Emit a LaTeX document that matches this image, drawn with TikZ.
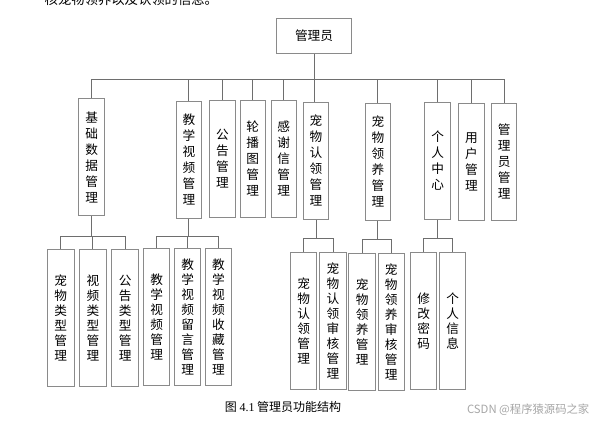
\documentclass[tikz,border=0pt]{standalone}
\usepackage{fontspec}
\setmainfont{Noto Sans CJK SC}
\newfontfamily\numfont{Liberation Serif}
\definecolor{linegray}{HTML}{6E6E6E}
\definecolor{boxgray}{HTML}{8A8A8A}
\tikzset{
  box/.style={draw=boxgray, line width=0.75pt, fill=white, inner sep=0pt, align=center},
  rootbox/.style={box, minimum width=56.25pt, minimum height=26.25pt, font={\fontsize{9.5}{12}\selectfont}},
  upper/.style={box, minimum width=19pt, minimum height=87.75pt, font={\fontsize{9.5}{12}\selectfont}},
  lower/.style={box, minimum width=19.9pt, minimum height=102.75pt, font={\fontsize{9.5}{11.25}\selectfont}},
}
\begin{document}
\begin{tikzpicture}[x=0.75pt, y=-0.75pt]
      \useasboundingbox (0,0) rectangle (600,422);
      \node[anchor=base west, font={\fontsize{10}{12}\selectfont}] (intro) at (40,4.5) {核宠物领养以及认领的信息。};
      \draw
        (314,35.8) node[rootbox] (0){管理员}
        (91.6,157.2) node[upper] (1){基\\础\\数\\据\\管\\理}
        (188.9,159.8) node[upper] (2){教\\学\\视\\频\\管\\理}
        (222.4,158.8) node[upper] (3){公\\告\\管\\理}
        (252.8,158.8) node[upper] (4){轮\\播\\图\\管\\理}
        (283.7,158.8) node[upper] (5){感\\谢\\信\\管\\理}
        (316,160.8) node[upper] (6){宠\\物\\认\\领\\管\\理}
        (377.9,161.8) node[upper] (7){宠\\物\\领\\养\\管\\理}
        (437.6,160.8) node[upper] (8){个\\人\\中\\心}
        (471.4,161.8) node[upper] (9){用\\户\\管\\理}
        (504.1,161.8) node[upper] (10){管\\理\\员\\管\\理}
        (60.8,317.8) node[lower] (11){宠\\物\\类\\型\\管\\理}
        (92.9,317.8) node[lower] (12){视\\频\\类\\型\\管\\理}
        (125.2,317.8) node[lower] (13){公\\告\\类\\型\\管\\理}
        (156.7,317.2) node[lower] (21){教\\学\\视\\频\\管\\理}
        (187.7,317.2) node[lower] (22){教\\学\\视\\频\\留\\言\\管\\理}
        (218.5,317.2) node[lower] (23){教\\学\\视\\频\\收\\藏\\管\\理}
        (303.7,320.8) node[lower] (61){宠\\物\\认\\领\\管\\理}
        (333,320.8) node[lower] (62){宠\\物\\认\\领\\审\\核\\管\\理}
        (362.2,321.8) node[lower] (71){宠\\物\\领\\养\\管\\理}
        (391.3,321.8) node[lower] (72){宠\\物\\领\\养\\审\\核\\管\\理}
        (423.6,320.8) node[lower] (81){修\\改\\密\\码}
        (452.6,320.8) node[lower] (82){个\\人\\信\\息};
      \coordinate (b0) at (314,79);
      \path (1.south) ++(0,20) coordinate (b1);
      \path (2.south) ++(0,17.3) coordinate (b2);
      \path (6.south) ++(0,19) coordinate (b6);
      \path (7.south) ++(0,18.7) coordinate (b7);
      \path (8.south) ++(0,19) coordinate (b8);
      \begin{scope}[draw=linegray, line width=0.75pt]
        \draw (0.south) -- (0.south |- 6.north);
        \draw (b0) -| (1.north);
        \draw (b0) -| (2.north);
        \draw (b0) -| (3.north);
        \draw (b0) -| (4.north);
        \draw (b0) -| (5.north);
        \draw (b0) -| (7.north);
        \draw (b0) -| (8.north);
        \draw (b0) -| (9.north);
        \draw (b0) -| (10.north);
        \draw (1.south) -- (b1);
        \draw (b1) -| (11.north);
        \draw (b1) -| (12.north);
        \draw (b1) -| (13.north);
        \draw (2.south) -- (b2);
        \draw (b2) -| (21.north);
        \draw (b2) -| (22.north);
        \draw (b2) -| (23.north);
        \draw (6.south) -- (b6);
        \draw (b6) -| (61.north);
        \draw (b6) -| (62.north);
        \draw (7.south) -- (b7);
        \draw (b7) -| (71.north);
        \draw (b7) -| (72.north);
        \draw (8.south) -- (b8);
        \draw (b8) -| (81.north);
        \draw (b8) -| (82.north);
      \end{scope}
      \node[font={\fontsize{9}{11}\selectfont}] (caption) at (283,406.7) {图 {\numfont 4.1} 管理员功能结构};
      \node[anchor=east, text=gray!70, font={\fontsize{8.5}{10}\selectfont}] (mark) at (594,410) {CSDN @程序猿源码之家};
    \end{tikzpicture}
\end{document}
